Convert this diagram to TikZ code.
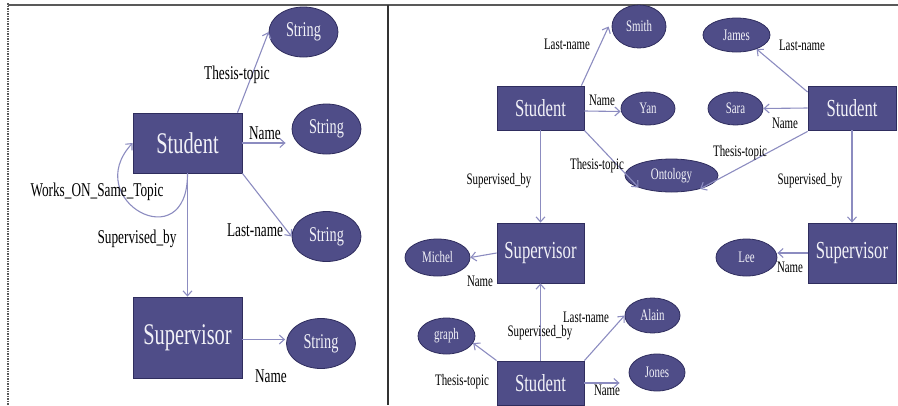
\documentclass[tikz,border=0pt]{standalone}
\usepackage{fontspec}
\setmainfont{Liberation Serif}
\newfontfamily\cond[FakeStretch=0.68]{Liberation Serif}
\usetikzlibrary{arrows.meta,shapes.geometric}
\definecolor{nodefill}{HTML}{4F4D88}
\definecolor{nodeline}{HTML}{2F2D5E}
\definecolor{edgecol}{HTML}{8C8CC0}
\definecolor{nodetext}{HTML}{F2F2F8}
\tikzset{
  ent/.style={draw=nodeline, line width=0.8pt, fill=nodefill, rectangle, inner sep=0pt, text=nodetext},
  val/.style={draw=nodeline, line width=0.8pt, fill=nodefill, ellipse, inner sep=0pt, text=nodetext},
  bigtxt/.style={font=\cond\fontsize{30}{32}\selectfont},
  midtxt/.style={font=\cond\fontsize{24.5}{26}\selectfont},
  strtxt/.style={font=\cond\fontsize{21}{22}\selectfont},
  smalltxt/.style={font=\cond\fontsize{16}{17}\selectfont},
  lbl/.style={inner sep=0pt, text=black, font=\cond\fontsize{19.5}{20}\selectfont},
  slbl/.style={inner sep=0pt, text=black, font=\cond\fontsize{16}{17}\selectfont},
  edge/.style={draw=edgecol, line width=1.1pt, -{Straight Barb[length=5pt,width=9pt]}},
}
\begin{document}
\begin{tikzpicture}[x=1pt,y=-1pt]
\useasboundingbox (0,0) rectangle (898,405);
% frame
\draw[gray!70!black, line width=1.5pt] (8,5) -- (898,5);
\draw[gray!70!black, line width=1.2pt, dash pattern=on 1.5pt off 1pt] (8,3) -- (8,405);
\draw[black!80, line width=1.5pt] (388,5) -- (388,405);

% ---------------- left panel ----------------
\node[ent, bigtxt, minimum width=109pt, minimum height=60pt] (lS) at (187.5,143) {Student};
\node[ent, bigtxt, minimum width=109pt, minimum height=81pt] (lV) at (187.5,337.5) {Supervisor};
\node[val, strtxt, minimum width=69pt, minimum height=50pt] (s1) at (303.5,32) {String};
\node[val, strtxt, minimum width=69pt, minimum height=50pt] (s2) at (326.5,129) {String};
\node[val, strtxt, minimum width=69pt, minimum height=50pt] (s3) at (326.5,236.5) {String};
\node[val, strtxt, minimum width=69pt, minimum height=50pt] (s4) at (321,343.5) {String};

\draw[edge] ([xshift=50pt]lS.north) -- (s1.west);
\draw[edge] (lS.east) -- ([xshift=-6pt]lS.east -| s2.west);
\draw[edge] (lS.south east) -- (s3.west);
\draw[edge] (lS.south) -- (lV.north);
\draw[edge] ([yshift=-2pt]lV.east) -- ([yshift=-2pt,xshift=-1pt]lV.east -| s4.west);
\draw[edge] (lS.south) .. controls (188,260) and (80,200) .. (lS.west);

\node[lbl] (l1) at (237,75) {Thesis-topic};
\node[lbl] (l2) at (265,133) {Name};
\node[lbl] (l3) at (255,230) {Last-name};
\node[lbl] (l4) at (97,192) {Works\_ON\_Same\_Topic};
\node[lbl] (l5) at (137,239) {Supervised\_by};
\node[lbl] (l6) at (271,376) {Name};

% ---------------- right panel ----------------
\node[ent, midtxt, minimum width=87pt, minimum height=44pt] (rS1) at (540.5,108) {Student};
\node[ent, midtxt, minimum width=88pt, minimum height=44pt] (rS2) at (852,108) {Student};
\node[ent, midtxt, minimum width=87pt, minimum height=60pt] (rV1) at (540.5,253) {Supervisor};
\node[ent, midtxt, minimum width=88pt, minimum height=60pt] (rV2) at (852,253) {Supervisor};
\node[ent, midtxt, minimum width=87pt, minimum height=44pt] (rS3) at (540.5,383) {Student};

\node[val, smalltxt, minimum width=54pt, minimum height=43pt] (smith) at (639,26.5) {Smith};
\node[val, smalltxt, minimum width=54pt, minimum height=33pt] (yan) at (648,108.5) {Yan};
\node[val, smalltxt, minimum width=67pt, minimum height=34pt] (james) at (736.5,35) {James};
\node[val, smalltxt, minimum width=55pt, minimum height=33pt] (sara) at (735.5,108.5) {Sara};
\node[val, smalltxt, minimum width=93pt, minimum height=33pt] (onto) at (671.5,175.5) {Ontology};
\node[val, smalltxt, minimum width=65pt, minimum height=37pt] (michel) at (437.5,257.5) {Michel};
\node[val, smalltxt, minimum width=61pt, minimum height=37pt] (lee) at (746.5,257.5) {Lee};
\node[val, smalltxt, minimum width=55pt, minimum height=35pt] (alain) at (652.5,315.5) {Alain};
\node[val, smalltxt, minimum width=57pt, minimum height=36pt] (graph) at (446.5,336) {graph};
\node[val, smalltxt, minimum width=56pt, minimum height=37pt] (jones) at (657,372.5) {Jones};

\draw[edge] ([xshift=-3pt]rS1.north east) -- ([xshift=-3pt]smith.west);
\draw[edge] ([yshift=-3pt]rS1.east) -- ([yshift=-3pt]yan.west);
\draw[edge] (rS1.south east) -- (onto.200);
\draw[edge] ([yshift=16pt]rS2.west) -- (james.-35);
\draw[edge] (rS2.west) -- (sara.east);
\draw[edge] ([yshift=-1pt]rS2.south west) -- (onto.-25);
\draw[edge] (rS1.south) -- (rV1.north);
\draw[edge] (rS2.south) -- (rV2.north);
\draw[edge] (rV1.west) -- (michel.east);
\draw[edge] (rV2.west) -- (rV2.west -| lee.east);
\draw[edge] (rS3.north) -- (rV1.south);
\draw[edge] (rS3.north east) -- (alain.west);
\draw[edge] (rS3.north west) -- (graph.-15);
\draw[edge] (rS3.east) -- ([xshift=-9pt]rS3.east -| jones.west);

\node[slbl] (r1) at (567,44) {Last-name};
\node[slbl] (r2) at (602,100) {Name};
\node[slbl] (r3) at (597,166) {Thesis-topic};
\node[slbl] (r4) at (499,181) {Supervised\_by};
\node[slbl] (r5) at (802,45) {Last-name};
\node[slbl] (r6) at (785,123) {Name};
\node[slbl] (r7) at (740,153) {Thesis-topic};
\node[slbl] (r8) at (810,181) {Supervised\_by};
\node[slbl] (r9) at (480,281) {Name};
\node[slbl] (r10) at (790,267) {Name};
\node[slbl] (r11) at (586,317) {Last-name};
\node[slbl] (r12) at (540,333) {Supervised\_by};
\node[slbl] (r13) at (462,382) {Thesis-topic};
\node[slbl] (r14) at (607,390) {Name};
\end{tikzpicture}
\end{document}
